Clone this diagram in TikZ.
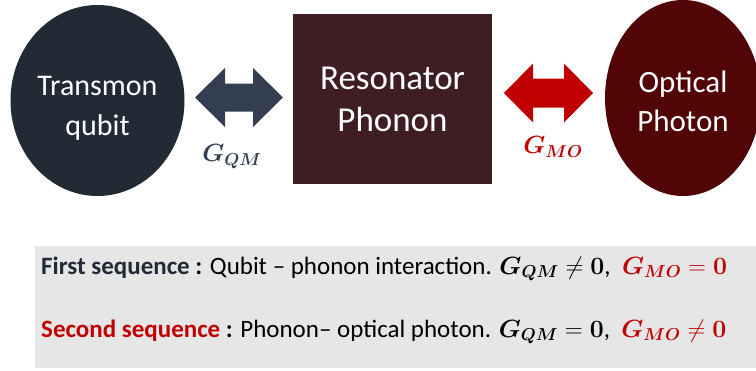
\documentclass[tikz,border=0pt]{standalone}
\usepackage{amsmath,bm}
\usepackage{fontspec}
\setmainfont{Carlito}
\usetikzlibrary{shapes.geometric}

\definecolor{qubitc}{HTML}{222A35}
\definecolor{arrowc}{HTML}{333F50}
\definecolor{resc}{HTML}{3E1E24}
\definecolor{photc}{HTML}{510507}
\definecolor{redc}{HTML}{C00000}
\definecolor{panelc}{HTML}{E6E6E6}

% block double arrow: x1, x2, y centre, head half-height, shaft half-height, head length, colour
\newcommand\dblarrow[7]{%
  \fill[#7] (#1,#3) -- ({#1+#6},{#3-#4}) -- ({#1+#6},{#3-#5}) -- ({#2-#6},{#3-#5})
    -- ({#2-#6},{#3-#4}) -- (#2,#3) -- ({#2-#6},{#3+#4}) -- ({#2-#6},{#3+#5})
    -- ({#1+#6},{#3+#5}) -- ({#1+#6},{#3+#4}) -- cycle;}

\newcommand\gqm{\bm{G}_{\bm{QM}}}
\newcommand\gmo{\bm{G}_{\bm{MO}}}

\begin{document}
\begin{tikzpicture}[x=1pt,y=-1pt,
  blob/.style={ellipse, inner sep=0pt},
  blobtext/.style={inner sep=0pt, text=white, align=center},
  label/.style={inner sep=0pt, font=\fontsize{23}{27}\selectfont},
  seqline/.style={anchor=base west, inner sep=0pt, font=\fontsize{25}{30}\selectfont}]
\useasboundingbox (0,0) rectangle (756,370);

% explanation panel
\fill[panelc] (35,246) rectangle (756,368);

% the three systems
\node[blob, fill=qubitc, minimum width=174pt, minimum height=191pt] (qubit) at (97.5,100.5) {};
\node[blobtext, font=\fontsize{30}{40}\selectfont] (qubitlbl)
  at ([yshift=-8pt]qubit.center) {Transmon\\qubit};
\node[rectangle, fill=resc, inner sep=0pt, minimum width=199pt, minimum height=170pt,
      text=white, align=center, font=\fontsize{35}{42}\selectfont] (res) at (392.5,99) {Resonator\\Phonon};
\node[blob, fill=photc, minimum width=156pt, minimum height=196pt] (phot) at (683,98) {};
\node[blobtext, font=\fontsize{31}{39}\selectfont] (photlbl)
  at ([yshift=-3pt]phot.center) {Optical\\Photon};

% couplings
\dblarrow{195}{283}{97.5}{29.5}{14}{30}{arrowc}
\dblarrow{504}{593}{93}{29.5}{14.5}{29}{redc}
\node[label, text=arrowc] (lqm) at (232,157) {$\gqm$};
\node[label, text=redc] (lmo) at (553,147) {$\gmo$};

% sequences
\node[seqline] (s1) at (41,274) {\textcolor{qubitc}{\textbf{First sequence}} \textbf{:} Qubit -- phonon interaction.
  $\gqm \neq \bm{0}$,\ \ \textcolor{redc}{$\gmo = \bm{0}$}};
\node[seqline] (s2) at (41,337) {\textcolor{redc}{\textbf{Second sequence}} \textbf{:} Phonon-- optical photon.
  $\gqm = \bm{0}$,\ \ \textcolor{redc}{$\gmo \neq \bm{0}$}};
\end{tikzpicture}
\end{document}
